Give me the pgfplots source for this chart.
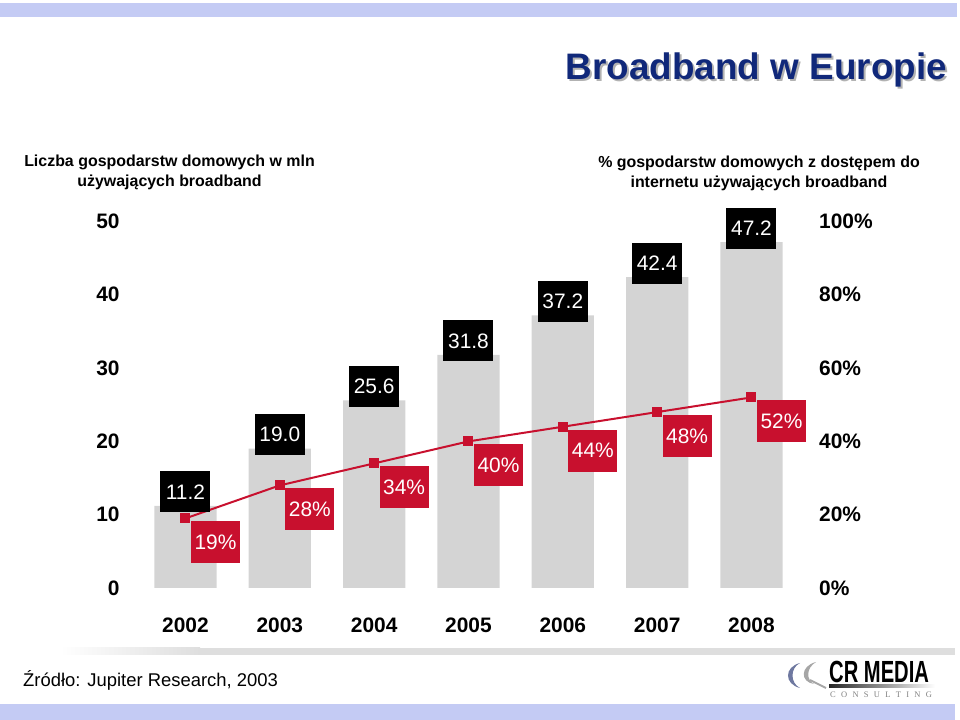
\documentclass[border=0pt]{standalone}
\usepackage{pgfplots}
\pgfplotsset{compat=1.18}
\usepackage{graphicx}
\usepackage{fontspec}
\setmainfont{Liberation Sans}
\newfontfamily\seriffont{Liberation Serif}
\definecolor{bandblue}{RGB}{196,203,244}
\definecolor{titleblue}{RGB}{16,40,122}
\definecolor{bargray}{RGB}{212,212,212}
\definecolor{cred}{RGB}{200,16,46}
\definecolor{linegray}{RGB}{222,222,222}
\definecolor{slate}{RGB}{110,120,160}
\newcommand{\fs}[1]{\fontsize{#1}{#1}\selectfont}
\pgfplotsset{myaxis/.style={
  at={(138.33bp,132bp)}, anchor=south west, scale only axis,
  width=660.33bp, height=366.5bp,
  xmin=-0.5, xmax=6.5,
  axis line style={draw=none}, major tick length=0pt, tick style={draw=none},
  clip=false,
}}
\begin{document}
\begin{tikzpicture}
\path[use as bounding box] (0,0) rectangle (960bp,720bp);
% bands and separator
\fill[bandblue] (0,703bp) rectangle (957bp,717bp);
\fill[bandblue] (0,0) rectangle (955bp,16bp);
\shade[left color=white, right color=linegray] (60bp,65bp) rectangle (200bp,72bp);
\fill[linegray] (199.5bp,65bp) rectangle (955bp,72bp);
% title
\node[anchor=base east, inner sep=0, text=gray!60, font=\fs{37}\bfseries] at (949bp,638bp) {Broadband w Europie};
\node[anchor=base east, inner sep=0, text=titleblue, font=\fs{37}\bfseries] at (947bp,640bp) {Broadband w Europie};
% headers
\node[anchor=north, inner sep=0, align=center, font=\fontsize{16}{19.5}\selectfont\bfseries] at (169.5bp,565bp) {Liczba gospodarstw domowych w mln\\używających broadband};
\node[anchor=north, inner sep=0, align=center, font=\fontsize{16}{19.5}\selectfont\bfseries] at (759bp,564bp) {\% gospodarstw domowych z dostępem do\\internetu używających broadband};
% source
\node[anchor=base west, inner sep=0, font=\fs{18.5}] at (23bp,34bp) {Źródło: Jupiter Research, 2003};
% logo
\fill[slate] (800bp,57bp) .. controls (784bp,53bp) and (784bp,36bp) .. (800bp,32bp) .. controls (790bp,37bp) and (790bp,52bp) .. (800bp,57bp);
\fill[gray!70] (816bp,58bp) .. controls (800bp,54bp) and (800bp,38bp) .. (814bp,36bp) .. controls (806bp,40bp) and (806bp,52bp) .. (816bp,58bp);
\draw[gray!70, line width=2bp] (810bp,40bp) -- (826bp,32bp);
\node[anchor=base west, inner sep=0, font=\fs{30.7}\bfseries] at (829bp,38bp) {\scalebox{0.66}[1]{CR MEDIA}};
\shade[left color=black!85, right color=white] (829bp,32bp) rectangle (935bp,35bp);
\node[anchor=base west, inner sep=0, text=gray, font=\seriffont\fs{8.5}] at (830bp,23bp) {C\hspace{5.3bp}O\hspace{5.3bp}N\hspace{5.3bp}S\hspace{5.3bp}U\hspace{5.3bp}L\hspace{5.3bp}T\hspace{5.3bp}I\hspace{5.3bp}N\hspace{5.3bp}G};
% axis A: bars
\begin{axis}[myaxis,
  ymin=0, ymax=50,
  ytick={0,10,20,30,40,50}, yticklabels={0,10,20,30,40,50},
  yticklabel style={anchor=east, inner sep=0pt, xshift=-18.5bp, font=\fs{21}\bfseries},
  xtick={0,1,2,3,4,5,6}, xticklabels={2002,2003,2004,2005,2006,2007,2008},
  xticklabel style={anchor=center, inner sep=0pt, yshift=-37bp, font=\fs{21}\bfseries},
]
\addplot[ybar, bar width=0.66, fill=bargray, draw=none] coordinates {(0,11.2) (1,19.0) (2,25.6) (3,31.8) (4,37.2) (5,42.4) (6,47.2)};
\end{axis}
% axis B: line, right scale
\begin{axis}[myaxis,
  ymin=0, ymax=100, xtick=\empty,
  ytick={0,20,40,60,80,100}, yticklabels={0\%,20\%,40\%,60\%,80\%,100\%},
  yticklabel pos=right,
  yticklabel style={anchor=west, inner sep=0pt, xshift=20.3bp, font=\fs{21}\bfseries},
]
\addplot[cred, line width=2bp, mark=square*, mark size=4.5bp, mark options={solid, fill=cred, draw=cred, line width=0pt},
  nodes near coords={\pgfmathprintnumber[assume math mode=true]{\pgfplotspointmeta}\%},
  nodes near coords style={anchor=center, xshift=30bp, yshift=-24bp, fill=cred, text=white, font=\fs{21}, inner sep=0pt, minimum width=49bp, minimum height=42bp}]
  coordinates {(0,19) (1,28) (2,34) (3,40) (4,44) (5,48) (6,52)};
\end{axis}
% axis C: value labels
\begin{axis}[myaxis, ymin=0, ymax=50, xtick=\empty, ytick=\empty]
\addplot[draw=none, mark=none,
  nodes near coords={\pgfmathprintnumber[fixed, fixed zerofill, precision=1, assume math mode=true]{\pgfplotspointmeta}},
  nodes near coords style={anchor=center, yshift=14bp, fill=black, text=white, font=\fs{21}, inner sep=0pt, minimum width=50bp, minimum height=41bp}]
  coordinates {(0,11.2) (1,19.0) (2,25.6) (3,31.8) (4,37.2) (5,42.4) (6,47.2)};
\end{axis}
\end{tikzpicture}
\end{document}
